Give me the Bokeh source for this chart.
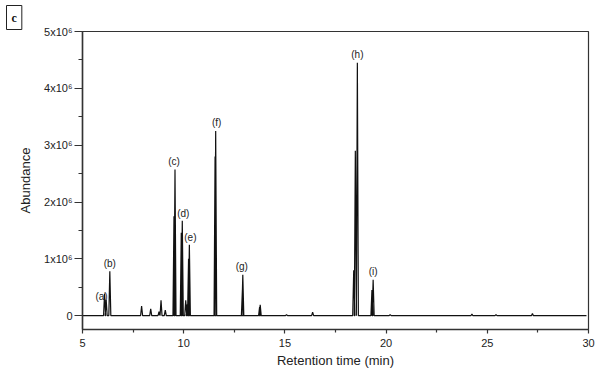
from bokeh.plotting import figure
from bokeh.models import FixedTicker, Range1d, ColumnDataSource
from bokeh.core.properties import value
from bokeh.embed import file_html
from bokeh.resources import INLINE

# ---- data (retention time in min, abundance) ----
peak_rt = [6.09, 6.17, 6.35, 7.92, 8.37, 8.78, 8.88, 9.09, 9.52, 9.57, 9.88, 9.93,
           10.10, 10.18, 10.24, 10.28, 11.55, 11.58, 12.90, 12.92, 13.75, 13.78,
           15.08, 16.37, 18.40, 18.48, 18.58, 19.30, 19.36, 20.20, 24.24, 25.43, 27.23]
peak_height = [0.39e6, 0.28e6, 0.78e6, 0.17e6, 0.12e6, 0.07e6, 0.27e6, 0.10e6, 1.75e6, 2.57e6,
               1.46e6, 1.67e6, 0.27e6, 0.20e6, 1.00e6, 1.25e6, 2.80e6, 3.25e6, 0.45e6, 0.72e6,
               0.15e6, 0.19e6, 0.02e6, 0.06e6, 0.80e6, 2.90e6, 4.45e6, 0.45e6, 0.63e6, 0.02e6,
               0.03e6, 0.02e6, 0.04e6]
run_start = 5.0
run_end = 29.9

label_names = ["(a)", "(b)", "(c)", "(d)", "(e)", "(f)", "(g)", "(h)", "(i)"]
label_rt = [6.09, 6.35, 9.57, 9.93, 10.28, 11.58, 12.92, 18.58, 19.36]
label_height = [0.39e6, 0.78e6, 2.57e6, 1.67e6, 1.25e6, 3.25e6, 0.72e6, 4.45e6, 0.63e6]

x_ticks = [5, 10, 15, 20, 25, 30]
x_tick_labels = ["5", "10", "15", "20", "25", "30"]
y_ticks = [0, 1e6, 2e6, 3e6, 4e6, 5e6]
y_tick_labels = ["0", "1x10\u2076", "2x10\u2076", "3x10\u2076", "4x10\u2076", "5x10\u2076"]

# ---- styling ----
HALF_WIDTH = 0.05
FONT = "Liberation Sans"
label_dx = [-3, 0, -1, 1, 1, 1, -1, 0, 0]
label_dy = [8, -2, -3, -2, -2, -3, -3, -3, -3]

# build the trace from peaks
order = sorted(range(len(peak_rt)), key=lambda i: peak_rt[i])
tx = [run_start]
ty = [0.0]
for i in order:
    tx += [peak_rt[i] - HALF_WIDTH, peak_rt[i], peak_rt[i] + HALF_WIDTH]
    ty += [0.0, peak_height[i], 0.0]
tx.append(run_end)
ty.append(0.0)

p = figure(width=595, height=370, output_backend="svg", toolbar_location=None,
           x_range=Range1d(5, 30), y_range=Range1d(-0.243e6, 5e6),
           min_border_left=82, min_border_right=7, min_border_top=31, min_border_bottom=36,
           title="c")
p.grid.visible = False
p.background_fill_color = "white"
p.border_fill_color = "white"
p.outline_line_color = "#333333"
p.outline_line_width = 1.2

# panel letter as a boxed title at the top left
p.title.align = "left"
p.title.offset = -76
p.title.standoff = 4
p.title.text_font = "Liberation Serif"
p.title.text_font_style = "bold"
p.title.text_font_size = "12px"
p.title.text_color = "#111111"
p.title.border_line_color = "#222222"
p.title.border_line_width = 1
p.title.background_fill_color = "white"
p.title.padding = 5

p.line(tx, ty, line_color="#111111", line_width=1.2)

src = ColumnDataSource(dict(x=label_rt, y=label_height, t=label_names, dx=label_dx, dy=label_dy))
p.text(x="x", y="y", text="t", x_offset="dx", y_offset="dy", source=src,
       text_font=value(FONT), text_font_size="10px", text_align="center",
       text_baseline="bottom", text_color="#222222")

# axes
for ax in (p.xaxis[0], p.yaxis[0]):
    ax.axis_line_color = "#333333"
    ax.axis_line_width = 1.5
    ax.major_tick_line_color = "#333333"
    ax.minor_tick_line_color = "#333333"
    ax.major_tick_line_width = 1.2
    ax.minor_tick_line_width = 1.2
    ax.major_tick_in = 0
    ax.minor_tick_in = 0
    ax.major_label_text_font = FONT
    ax.major_label_text_font_size = "11px"
    ax.major_label_text_color = "#222222"
    ax.axis_label_text_font = FONT
    ax.axis_label_text_font_size = "13px"
    ax.axis_label_text_font_style = "normal"
    ax.axis_label_text_color = "#222222"

p.xaxis.ticker = FixedTicker(ticks=x_ticks, minor_ticks=[7.5, 12.5, 17.5, 22.5, 27.5])
p.xaxis.major_label_overrides = {t: l for t, l in zip(x_ticks, x_tick_labels)}
p.xaxis.major_tick_out = 4
p.xaxis.minor_tick_out = 3
p.xaxis.major_label_standoff = 5
p.xaxis.axis_label = "Retention time (min)"
p.xaxis.axis_label_standoff = 3

p.yaxis.ticker = FixedTicker(ticks=y_ticks, minor_ticks=[0.5e6, 1.5e6, 2.5e6, 3.5e6, 4.5e6])
p.yaxis.major_label_overrides = {t: l for t, l in zip(y_ticks, y_tick_labels)}
p.yaxis.major_tick_out = 8
p.yaxis.minor_tick_out = 4
p.yaxis.major_label_standoff = 2
p.yaxis.axis_label = "Abundance"
p.yaxis.axis_label_standoff = 8

open("out.html", "w").write(file_html(p, INLINE))
